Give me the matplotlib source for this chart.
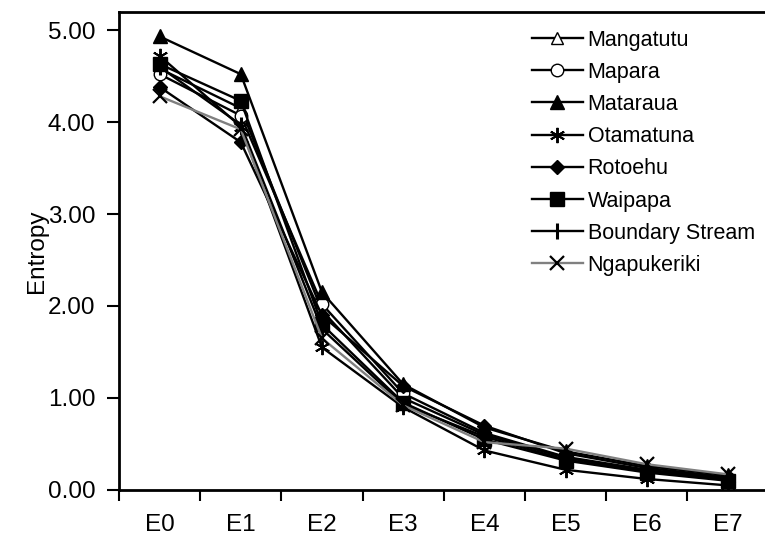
import matplotlib
matplotlib.use("Agg")
import matplotlib.pyplot as plt

plt.rcParams['font.family'] = ['Liberation Sans', 'DejaVu Sans']

categories = ["E0", "E1", "E2", "E3", "E4", "E5", "E6", "E7"]
mangatutu = [4.58, 4.15, 1.95, 1.00, 0.60, 0.35, 0.21, 0.12]
mapara = [4.52, 4.07, 2.02, 1.05, 0.62, 0.36, 0.22, 0.13]
mataraua = [4.93, 4.52, 2.15, 1.15, 0.68, 0.42, 0.26, 0.16]
otamatuna = [4.72, 3.95, 1.55, 0.90, 0.43, 0.22, 0.12, 0.05]
rotoehu = [4.38, 3.78, 1.90, 1.13, 0.70, 0.40, 0.24, 0.14]
waipapa = [4.63, 4.23, 1.80, 0.95, 0.55, 0.32, 0.19, 0.10]
boundary_stream = [4.60, 3.97, 1.75, 0.93, 0.58, 0.33, 0.20, 0.11]
ngapukeriki = [4.28, 3.92, 1.65, 0.92, 0.52, 0.45, 0.28, 0.17]

series = [
    ("Mangatutu", mangatutu, dict(marker='^', mfc='white', mec='black', color='black', ms=9)),
    ("Mapara", mapara, dict(marker='o', mfc='white', mec='black', color='black', ms=9)),
    ("Mataraua", mataraua, dict(marker='^', mfc='black', mec='black', color='black', ms=10)),
    ("Otamatuna", otamatuna, dict(marker=(6, 2, 0), mec='black', color='black', ms=11, mew=1.4)),
    ("Rotoehu", rotoehu, dict(marker='D', mfc='black', mec='black', color='black', ms=7.5)),
    ("Waipapa", waipapa, dict(marker='s', mfc='black', mec='black', color='black', ms=9.5)),
    ("Boundary Stream", boundary_stream, dict(marker='|', mec='black', color='black', ms=12, mew=2.2)),
    ("Ngapukeriki", ngapukeriki, dict(marker='x', mec='black', color='#808080', ms=10, mew=1.6)),
]

fig = plt.figure(figsize=(7.65, 5.37), dpi=100)
ax = fig.add_axes([119/765, 47/537, 649.5/765, 478/537])

x = list(range(len(categories)))
for name, vals, st in series:
    ax.plot(x, vals, label=name, lw=1.7, **st)

ax.set_xlim(-0.5, 7.5)
ax.set_ylim(0, 478/92)
ax.set_xticks([i + 0.5 for i in range(-1, 8)])
ax.set_xticklabels([])
ax.set_xticks(x, minor=True)
ax.set_xticklabels(categories, minor=True)
ax.tick_params(axis='x', which='major', direction='out', length=8, width=1.5)
ax.tick_params(axis='x', which='minor', length=0, labelsize=17.5, pad=17)
ax.set_yticks([0, 1, 2, 3, 4, 5])
ax.set_yticklabels([f"{v:.2f}" for v in [0, 1, 2, 3, 4, 5]])
ax.tick_params(axis='y', direction='out', length=9, width=1.5, labelsize=17.5, pad=8)

for s in ['left', 'bottom', 'top', 'right']:
    ax.spines[s].set_linewidth(2)

ax.set_ylabel("Entropy", fontsize=17.5, labelpad=0)

leg = ax.legend(loc='upper left', bbox_to_anchor=(523/765, 1.0 - 21/537), bbox_transform=fig.transFigure,
                frameon=False, fontsize=15.5, handlelength=2.4, handletextpad=0.2,
                labelspacing=0.52, borderaxespad=0)

fig.savefig("out.png", dpi=100)
